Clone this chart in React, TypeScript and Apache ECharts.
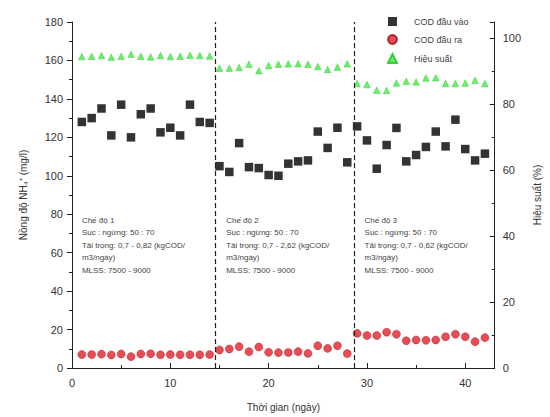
import React, { useEffect, useRef } from "react";
import * as echarts from "echarts";

const days: number[] = Array.from({ length: 42 }, (_, i) => i + 1);
const codIn: number[] = [
  128, 130, 135, 121, 137, 120, 132, 135, 122.6, 125, 121, 137, 128, 127.5,
  105, 102, 117, 104.5, 104, 100.4, 100, 106.3, 107.5, 108, 123, 114.5, 125, 107,
  125.7, 118.4, 103.7, 116, 124.9, 107.5, 110.8, 115, 123, 115.3, 129.2, 113.9, 108, 111.5,
];
const codOut: number[] = [
  7, 7, 7.2, 6.8, 7.3, 5.9, 7.3, 7.4, 6.9, 7, 6.9, 6.9, 6.9, 7,
  9.4, 9.9, 11.1, 8.5, 10.9, 8.2, 8, 8.1, 8.5, 7.6, 11.6, 10.2, 11.6, 7.5,
  18, 16.9, 16.9, 18.6, 17.6, 14.2, 14.6, 14.4, 14.6, 16.3, 17.6, 16.3, 13.7, 15.8,
];
const efficiency: number[] = [
  94.5, 94.6, 94.8, 94.3, 94.6, 95.2, 94.6, 94.4, 94.8, 94.5, 94.6, 94.9, 94.8, 94.7,
  91, 91, 91.2, 92.2, 90.2, 91.8, 92.2, 92.3, 92.3, 92.2, 91.5, 90.6, 91.3, 92.3,
  86.3, 86, 84.3, 84.2, 86.5, 87, 86.8, 88, 88.1, 86.3, 86.3, 86.5, 87.3, 86.3,
];
const dividers: number[] = [14.6, 28.7];
const seriesNames: string[] = ["COD đầu vào", "COD đầu ra", "Hiệu suất"];
const modeNotes: string[][] = [
  ["Chế độ 1", "Sục : ngừng: 50 : 70", "Tải trọng: 0,7 - 0,82 (kgCOD/", "m3/ngày)", "MLSS: 7500 - 9000"],
  ["Chế độ 2", "Sục : ngừng: 50 : 70", "Tải trọng: 0,7 - 2,62 (kgCOD/", "m3/ngày)", "MLSS: 7500 - 9000"],
  ["Chế độ 3", "Sục : ngừng: 50 : 70", "Tải trọng: 0,7 - 0,62 (kgCOD/", "m3/ngày)", "MLSS: 7500 - 9000"],
];
const noteX: number[] = [1.0, 15.6, 29.6];

export default function App() {
  const ref = useRef<HTMLDivElement>(null);
  useEffect(() => {
    if (!ref.current) return;
    document.body.style.margin = "0";
    const chart = echarts.init(ref.current, null, { renderer: "svg" });
    const font = "Arial, 'Liberation Sans', sans-serif";
    const axisCommon = {
      axisLine: { show: true, lineStyle: { color: "#222", width: 1 } },
      axisLabel: { color: "#333", fontSize: 11, fontFamily: font },
      splitLine: { show: false },
      nameTextStyle: { color: "#333", fontSize: 10, fontFamily: font },
    };
    const gridLeft = 72, gridTop = 22, gridW = 425, gridH = 346;
    const graphics: any[] = [];
    modeNotes.forEach((lines, k) => {
      const px = gridLeft + (noteX[k] / 43) * gridW;
      lines.forEach((t, j) => {
        graphics.push({
          type: "text",
          left: px,
          top: 216 + j * 12.5,
          style: { text: t, fill: "#444", fontSize: 8, fontFamily: font },
        });
      });
    });
    chart.setOption({
      animation: false,
      backgroundColor: "#fff",
      grid: { left: gridLeft, top: gridTop, width: gridW, height: gridH },
      legend: {
        orient: "vertical",
        left: 382,
        top: 12,
        itemWidth: 9,
        itemHeight: 9,
        itemGap: 8,
        textStyle: { color: "#444", fontSize: 9, fontFamily: font, padding: [0, 0, 0, 12] },
        data: [
          { name: seriesNames[0], icon: "rect" },
          { name: seriesNames[1], icon: "circle" },
          { name: seriesNames[2], icon: "triangle" },
        ],
      },
      xAxis: {
        type: "value",
        min: 0,
        max: 43,
        interval: 10,
        ...axisCommon,
        axisTick: { show: true, inside: true, length: 5, lineStyle: { color: "#222" } },
        minorTick: { show: true, splitNumber: 2, length: 3, lineStyle: { color: "#222" } },
        axisLabel: { ...axisCommon.axisLabel, margin: 9, showMaxLabel: false },
        name: "Thời gian (ngày)",
        nameLocation: "middle",
        nameGap: 34,
      },
      yAxis: [
        {
          type: "value",
          min: 0,
          max: 180,
          interval: 20,
          ...axisCommon,
          axisTick: { show: true, inside: false, length: 5, lineStyle: { color: "#222" } },
          minorTick: { show: true, splitNumber: 2, length: 3, lineStyle: { color: "#222" } },
          axisLabel: { ...axisCommon.axisLabel, margin: 9 },
          name: "Nồng độ NH₄⁺ (mg/l)",
          nameLocation: "middle",
          nameRotate: 90,
          nameGap: 44,
        },
        {
          type: "value",
          position: "right",
          min: 0,
          max: 105,
          interval: 20,
          alignTicks: false,
          ...axisCommon,
          axisTick: { show: true, inside: true, length: 5, lineStyle: { color: "#222" } },
          minorTick: { show: true, splitNumber: 2, length: 3, lineStyle: { color: "#222" } },
          axisLabel: { ...axisCommon.axisLabel, margin: 8, showMaxLabel: false },
          name: "Hiệu suất (%)",
          nameLocation: "middle",
          nameRotate: 90,
          nameGap: 36,
        },
      ],
      series: [
        {
          name: seriesNames[0],
          type: "scatter",
          symbol: "rect",
          symbolSize: 8.5,
          itemStyle: { color: "#000" },
          data: days.map((d, i) => [d, codIn[i]]),
          markLine: {
            silent: true,
            symbol: ["none", "none"],
            label: { show: false },
            lineStyle: { color: "#222", type: [5, 3], width: 1.2 },
            data: dividers.map((x) => ({ xAxis: x })),
          },
        },
        {
          name: seriesNames[1],
          type: "scatter",
          symbol: "circle",
          symbolSize: 8,
          itemStyle: { color: "#e0202a", borderColor: "#a01018", borderWidth: 0.5 },
          data: days.map((d, i) => [d, codOut[i]]),
        },
        {
          name: seriesNames[2],
          type: "scatter",
          yAxisIndex: 1,
          symbol: "triangle",
          symbolSize: 6.5,
          itemStyle: { color: "#44ee44", borderColor: "#22bb22", borderWidth: 0.5 },
          data: days.map((d, i) => [d, efficiency[i]]),
        },
      ],
      graphic: graphics,
    });
    return () => chart.dispose();
  }, []);
  return <div ref={ref} style={{ width: 550, height: 417 }} />;
}
